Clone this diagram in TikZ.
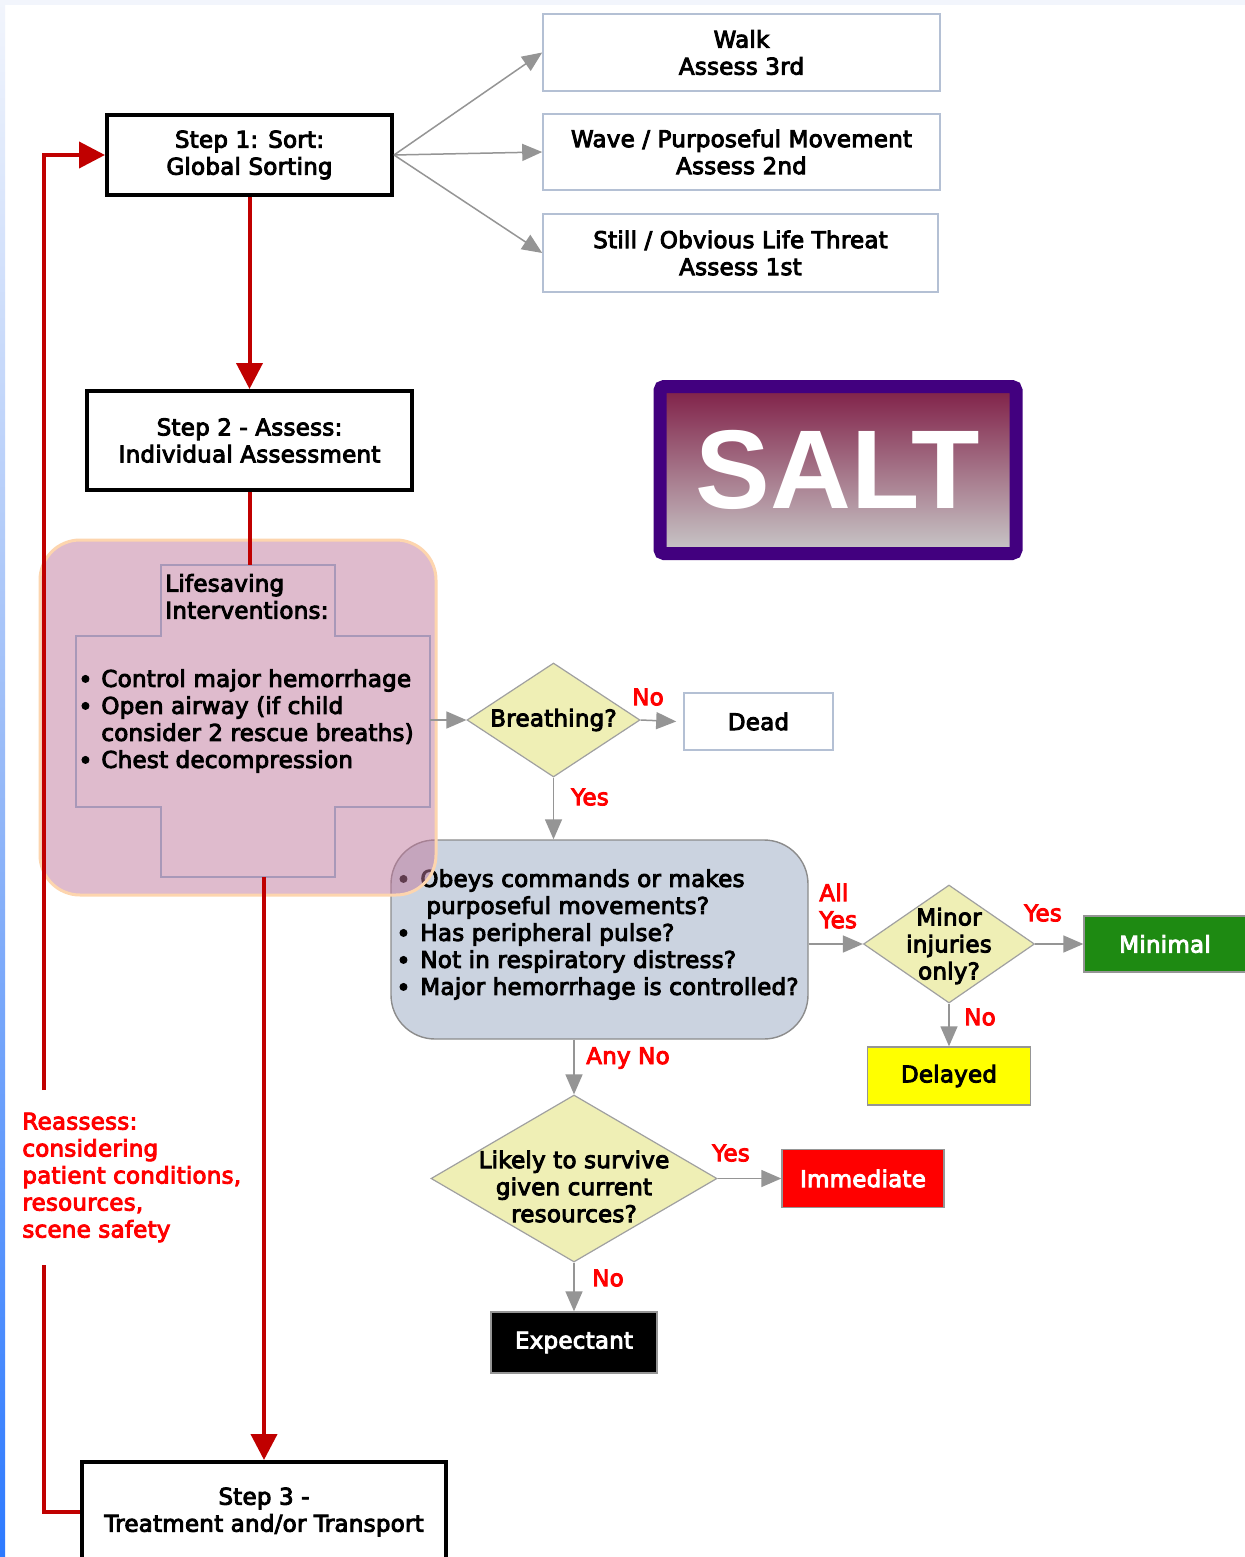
\documentclass[tikz,border=0pt]{standalone}
\usepackage{fontspec}
\setmainfont{DejaVu Sans}[FakeBold=4, LetterSpace=1]
\newfontfamily\saltface{Liberation Sans}
\usetikzlibrary{arrows.meta,shapes.geometric}

\definecolor{cRed}{HTML}{C00000}
\definecolor{cLabel}{HTML}{FF0000}
\definecolor{cGray}{HTML}{959595}
\definecolor{cSortEdge}{HTML}{B4C0D4}
\definecolor{cQFill}{HTML}{EFEFB5}
\definecolor{cQEdge}{HTML}{A0A0A0}
\definecolor{cBlue}{HTML}{CBD3E0}
\definecolor{cBlueEdge}{HTML}{8C8C8C}
\definecolor{cPink}{HTML}{C0789C}
\definecolor{cPinkEdge}{HTML}{FDD5AE}
\definecolor{cCross}{HTML}{A898B8}
\definecolor{cPurple}{HTML}{42007F}
\definecolor{cMaroon}{HTML}{7F1E46}
\definecolor{cGreen}{HTML}{1E8A12}
\definecolor{cYellow}{HTML}{FFFF00}
\definecolor{cTop}{HTML}{F2F5FC}

\newcommand{\mainfs}{\fontsize{11.5}{13.5}\selectfont}
\newcommand{\bul}[1]{\makebox[#1][l]{\raisebox{-0.5pt}{\large•}}}

\tikzset{
  txt/.style={font=\mainfs, align=center, inner sep=0pt},
  stepbox/.style={draw=black, line width=2pt, fill=white, txt},
  sortbox/.style={draw=cSortEdge, line width=0.8pt, fill=white, txt},
  question/.style={diamond, draw=cQEdge, line width=0.6pt, fill=cQFill, inner sep=0pt},
  qtext/.style={txt},
  outcome/.style={draw=cGray, line width=0.7pt, txt},
  lbl/.style={txt, text=cLabel},
  redwire/.style={draw=cRed, line width=2pt},
  redarrow/.style={redwire, -{Triangle[length=13pt,width=13pt]}},
  grayarrow/.style={draw=cGray, line width=0.75pt, -{Triangle[length=10pt,width=8.5pt]}},
}

\begin{document}
\begin{tikzpicture}[x=0.5pt, y=-0.5pt]
\useasboundingbox (0,0) rectangle (1245,1557);
\clip (0,0) rectangle (1245,1557);

% page frame
\fill[white] (0,0) rectangle (1245,1557);
\fill[cTop] (0,0) rectangle (1245,5);
\shade[top color=cTop, bottom color={rgb,255:red,45;green,122;blue,255}, middle color={rgb,255:red,150;green,185;blue,248}] (0,0) rectangle (5,1557);

% step 1 and the three sorting groups
\node[stepbox, minimum width=142.5pt, minimum height=40pt] (s1) at (249.5,155) {Step 1: Sort:\\Global Sorting};
\node[sortbox, minimum width=198.5pt, minimum height=38.5pt] (walk) at (741.5,52.5) {Walk\\Assess 3rd};
\node[sortbox, minimum width=198.5pt, minimum height=38pt] (wave) at (741.5,152) {Wave / Purposeful Movement\\Assess 2nd};
\node[sortbox, minimum width=197.5pt, minimum height=39pt] (still) at (740.5,253) {Still / Obvious Life Threat\\Assess 1st};
\draw[grayarrow] (s1.east) -- (walk.west);
\draw[grayarrow] (s1.east) -- (wave.west);
\draw[grayarrow] (s1.east) -- (still.west);

% step 2
\node[stepbox, minimum width=162.5pt, minimum height=49.5pt] (s2) at (249.5,440.5) {Step 2 - Assess:\\Individual Assessment};

% title badge
\node[draw=cPurple, line width=6.5pt, rounded corners=2pt, top color=cMaroon, middle color={rgb,255:red,172;green,152;blue,160}, bottom color={rgb,255:red,201;green,201;blue,201}, minimum width=178pt, minimum height=83.5pt, inner sep=0pt, text=white, font=\saltface\bfseries\fontsize{56}{56}\selectfont] (salt) at (838,470) {SALT};

% assessment questions
\node[draw=cBlueEdge, line width=0.7pt, fill=cBlue, rounded corners=22pt, minimum width=208.5pt, minimum height=99.5pt] (blue) at (599.5,939.5) {};
\node[txt, align=left, anchor=west] (bluetext) at (396,934.5) {\bul{12pt}Obeys commands or makes\\\hspace*{15pt}purposeful movements?\\\bul{12pt}Has peripheral pulse?\\\bul{12pt}Not in respiratory distress?\\\bul{12pt}Major hemorrhage is controlled?};

\node[question, minimum width=86.5pt, minimum height=57pt, label={[qtext]center:Breathing?}] (breath) at (553.5,720) {};
\node[sortbox, minimum width=74.5pt, minimum height=28.5pt] (dead) at (758.5,721.5) {Dead};

\node[question, minimum width=85.5pt, minimum height=59pt, label={[qtext, yshift=-1pt]center:Minor\\injuries\\only?}] (minor) at (949,944) {};
\node[outcome, fill=cGreen, text=white, minimum width=81pt, minimum height=28pt] (minimal) at (1165,944) {Minimal};
\node[outcome, fill=cYellow, minimum width=81.5pt, minimum height=29pt] (delayed) at (949,1076) {Delayed};

\node[question, minimum width=143pt, minimum height=83.5pt, label={[qtext, yshift=-4pt]center:Likely to survive\\given current\\resources?}] (likely) at (574,1178.5) {};
\node[outcome, fill=red, text=white, minimum width=81pt, minimum height=29pt] (immediate) at (863,1178.5) {Immediate};
\node[outcome, fill=black, text=white, minimum width=83pt, minimum height=30.5pt] (expectant) at (574,1342.5) {Expectant};

% lifesaving interventions
\node[draw=cPinkEdge, line width=1.5pt, fill=cPink, fill opacity=0.5, rounded corners=20pt, minimum width=198pt, minimum height=177.5pt] (lsi) at (238,717.5) {};
\draw[cCross, line width=0.6pt] (161,565) -- (335,565) -- (335,636) -- (430,636) -- (430,807) -- (335,807) -- (335,877) -- (161,877) -- (161,807) -- (76,807) -- (76,636) -- (161,636) -- cycle;
\coordinate (crossT) at (249.5,565);
\coordinate (crossB) at (264,877);
\coordinate (crossR) at (430,720);
\node[txt, align=left, anchor=west] (lsititle) at (165,596.5) {Lifesaving\\Interventions:};
\node[txt, align=left, anchor=west] (lsilist) at (78,721) {\bul{11.5pt}Control major hemorrhage\\\bul{11.5pt}Open airway (if child\\\hspace*{11.5pt}consider 2 rescue breaths)\\\bul{11.5pt}Chest decompression};

% step 3
\node[stepbox, minimum width=182pt, minimum height=50pt] (s3) at (264,1512) {Step 3 -\\Treatment and/or Transport};

% decision flow
\draw[grayarrow] (crossR) -- (breath.west);
\draw[grayarrow] (breath.east) -- ([xshift=-3.5pt]dead.west);
\draw[grayarrow] (breath.south) -- (breath.south |- blue.north);
\draw[grayarrow] (blue.east |- minor.west) -- (minor.west);
\draw[grayarrow] (minor.east) -- (minimal.west);
\draw[grayarrow] (minor.south) -- (delayed.north);
\draw[grayarrow] (likely.north |- blue.south) -- (likely.north);
\draw[grayarrow] (likely.east) -- (immediate.west);
\draw[grayarrow] (likely.south) -- (expectant.north);

% branch labels
\node[lbl] (lNo1) at (648,697) {No};
\node[lbl] (lYes1) at (590,797) {Yes};
\node[lbl, align=left, anchor=west] (lAll) at (819,906) {All\\Yes};
\node[lbl] (lYes2) at (1043,913) {Yes};
\node[lbl] (lNo2) at (980,1017) {No};
\node[lbl] (lAny) at (628,1058) {Any No};
\node[lbl] (lYes3) at (731,1153) {Yes};
\node[lbl] (lNo3) at (608,1278) {No};
\node[lbl, align=left, anchor=west] (reassess) at (22,1177.5) {Reassess:\\considering\\patient conditions,\\resources,\\scene safety};

% main red path and reassessment loop
\coordinate (rLow) at (44,1265);
\coordinate (rHigh) at (44,1090);
\draw[redarrow] (s1.south) -- (s2.north);
\draw[redwire] (s2.south) -- (crossT);
\draw[redarrow] (crossB) -- (s3.north);
\draw[redwire] (s3.west) -| (rLow);
\draw[redarrow] (rHigh) |- (s1.west);
\end{tikzpicture}
\end{document}
